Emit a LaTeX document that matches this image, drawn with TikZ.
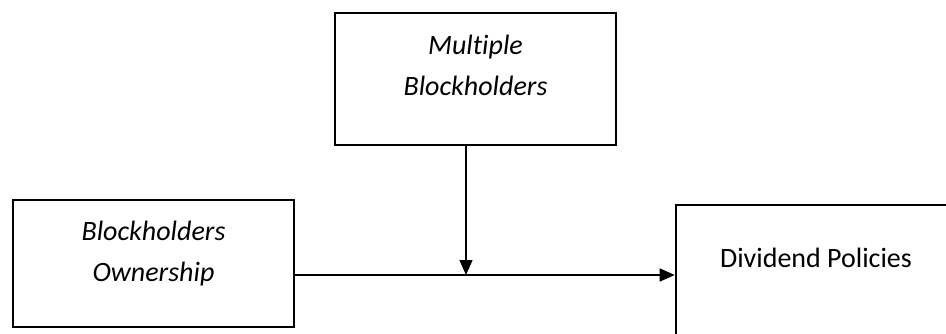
\documentclass[tikz,border=0pt]{standalone}
\usepackage{fontspec}
\setmainfont[Ligatures=NoCommon]{Carlito}
\usetikzlibrary{arrows.meta}
\begin{document}
\begin{tikzpicture}[x=1pt,y=-1pt,
  box/.style={draw, line width=2.6pt, inner sep=0pt},
  lbl/.style={font=\fontsize{28}{41}\selectfont, align=center, inner sep=0pt},
  conn/.style={line width=1.3pt, -{Triangle[length=15pt,width=13pt]}}]
\clip (0,0) rectangle (946,333);
\node[box, minimum width=281pt, minimum height=132pt] (mb) at (475.5,79) {};
\node[box, minimum width=281pt, minimum height=127pt] (ob) at (153.5,263.5) {};
\node[box, minimum width=280pt, minimum height=150pt] (db) at (816,280) {};
\node[lbl, font=\fontsize{28}{41}\selectfont\itshape] (mt) at (475.5,65) {Multiple\\Blockholders};
\node[lbl, font=\fontsize{28}{41}\selectfont\itshape] (ot) at (153.5,254) {Blockholders\\Ownership};
\node[lbl] (dt) at (816,258) {Dividend Policies};
\coordinate (m) at (466,275);
\draw[conn] (ob.east |- m) -- (db.west |- m);
\draw[conn] (mb.south -| m) -- (m);
\end{tikzpicture}
\end{document}
